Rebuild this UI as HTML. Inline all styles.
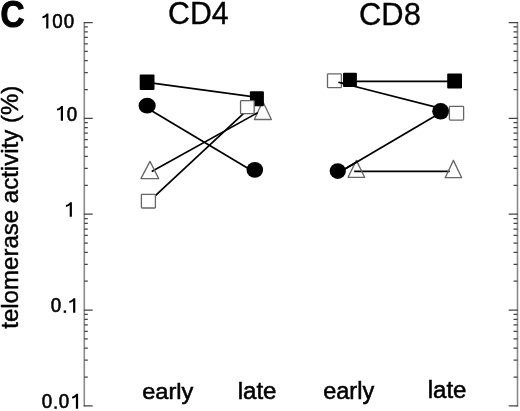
<!DOCTYPE html>
<html><head><meta charset="utf-8"><style>
html,body{margin:0;padding:0;background:#fff;width:520px;height:411px;overflow:hidden}
svg{display:block;will-change:transform}
</style></head><body>
<svg width="520" height="411" viewBox="0 0 520 411">
<g font-family="Liberation Sans, sans-serif" fill="#000">
<text transform="matrix(0.9212 0 0 1.0075 0.38 26.64)" font-size="36" font-weight="bold" stroke="#000" stroke-width="1.142">C</text><text transform="matrix(0.9457 0 0 1.0043 168.08 24.10)" font-size="32" font-weight="normal" stroke="#000" stroke-width="0.359">CD4</text><text transform="matrix(0.9649 0 0 1.0000 359.05 24.50)" font-size="32" font-weight="normal" stroke="#000" stroke-width="0.356">CD8</text><text transform="matrix(1.0040 0 0 0.9618 142.15 398.79)" font-size="23.5" font-weight="normal" stroke="#000" stroke-width="0.560">early</text><text transform="matrix(1.0238 0 0 1.0085 237.72 398.70)" font-size="23.5" font-weight="normal" stroke="#000" stroke-width="0.541">late</text><text transform="matrix(1.0000 0 0 0.9798 323.25 398.70)" font-size="23.5" font-weight="normal" stroke="#000" stroke-width="0.556">early</text><text transform="matrix(1.0238 0 0 0.9859 427.72 398.31)" font-size="23.5" font-weight="normal" stroke="#000" stroke-width="0.547">late</text><text transform="translate(18.04 328.76) rotate(-90) scale(1.0235 1.0112)" font-size="23.5" font-weight="normal" stroke="#000" stroke-width="0.442">telomerase activity (%)</text>
<path d="M48.40 28.40V13.60H46.64C45.60 15.20 43.60 16.20 42.40 16.50V18.30C44.40 18.10 45.20 17.40 46.20 16.50V28.40Z"/><text transform="matrix(0.8727 0 0 0.9524 52.16 28.22)" font-size="21.5" stroke="#000" stroke-width="0.603">0</text><text transform="matrix(0.8727 0 0 0.9524 63.86 28.22)" font-size="21.5" stroke="#000" stroke-width="0.603">0</text><path d="M63.00 120.70V105.90H61.24C60.20 107.50 58.20 108.50 57.00 108.80V110.60C59.00 110.40 59.80 109.70 60.80 108.80V120.70Z"/><text transform="matrix(0.8727 0 0 0.9524 66.86 120.52)" font-size="21.5" stroke="#000" stroke-width="0.603">0</text><path d="M71.90 216.80V202.20H70.14C69.10 203.80 67.10 204.80 65.90 205.10V206.90C67.90 206.70 68.70 206.00 69.70 205.10V216.80Z"/><text transform="matrix(0.8727 0 0 0.9524 50.86 312.42)" font-size="21.5" stroke="#000" stroke-width="0.603">0</text><rect x="63.70" y="310.40" width="2.4" height="2.4"/><path d="M75.30 312.70V298.20H73.54C72.50 299.80 70.50 300.80 69.30 301.10V302.90C71.30 302.70 72.10 302.00 73.10 301.10V312.70Z"/><text transform="matrix(0.8727 0 0 0.9524 41.86 408.42)" font-size="21.5" stroke="#000" stroke-width="0.603">0</text><rect x="54.40" y="406.40" width="2.4" height="2.4"/><text transform="matrix(0.8727 0 0 0.9524 58.66 408.42)" font-size="21.5" stroke="#000" stroke-width="0.603">0</text><path d="M78.10 408.80V393.80H76.34C75.30 395.40 73.30 396.40 72.10 396.70V398.50C74.10 398.30 74.90 397.60 75.90 396.70V408.80Z"/>
</g>
<path d="M84.3 22.0V406.40M517.5 22.0V406.40" stroke="#8a8a8a" stroke-width="1.6" fill="none"/>
<path d="M84.3 89.50H87.80M517.5 89.50H513.50M84.3 72.62H87.80M517.5 72.62H513.50M84.3 60.64H87.80M517.5 60.64H513.50M84.3 51.35H87.80M517.5 51.35H513.50M84.3 43.76H87.80M517.5 43.76H513.50M84.3 37.35H87.80M517.5 37.35H513.50M84.3 31.79H87.80M517.5 31.79H513.50M84.3 26.89H87.80M517.5 26.89H513.50M84.3 185.35H87.80M517.5 185.35H513.50M84.3 168.47H87.80M517.5 168.47H513.50M84.3 156.49H87.80M517.5 156.49H513.50M84.3 147.20H87.80M517.5 147.20H513.50M84.3 139.61H87.80M517.5 139.61H513.50M84.3 133.20H87.80M517.5 133.20H513.50M84.3 127.64H87.80M517.5 127.64H513.50M84.3 122.74H87.80M517.5 122.74H513.50M84.3 281.20H87.80M517.5 281.20H513.50M84.3 264.32H87.80M517.5 264.32H513.50M84.3 252.34H87.80M517.5 252.34H513.50M84.3 243.05H87.80M517.5 243.05H513.50M84.3 235.46H87.80M517.5 235.46H513.50M84.3 229.05H87.80M517.5 229.05H513.50M84.3 223.49H87.80M517.5 223.49H513.50M84.3 218.59H87.80M517.5 218.59H513.50M84.3 377.05H87.80M517.5 377.05H513.50M84.3 360.17H87.80M517.5 360.17H513.50M84.3 348.19H87.80M517.5 348.19H513.50M84.3 338.90H87.80M517.5 338.90H513.50M84.3 331.31H87.80M517.5 331.31H513.50M84.3 324.90H87.80M517.5 324.90H513.50M84.3 319.34H87.80M517.5 319.34H513.50M84.3 314.44H87.80M517.5 314.44H513.50M83.8 22.50H92.70M518.0 22.50H508.70M83.8 118.35H92.70M518.0 118.35H508.70M83.8 214.20H92.70M518.0 214.20H508.70M83.8 310.05H92.70M518.0 310.05H508.70M83.8 405.90H92.70M518.0 405.90H508.70" stroke="#444" stroke-width="1.25" fill="none"/>
<path d="M262.7 101.3L271.4 119.5H254.4Z" fill="none" stroke="#666" stroke-width="1.3" stroke-linejoin="round"/><path d="M147 82.42L257 97.17" stroke="#000" stroke-width="1.7" fill="none"/><path d="M147 107.97L254.5 172.18" stroke="#000" stroke-width="1.7" fill="none"/><path d="M151.7 171.42L257.7 112.69" stroke="#000" stroke-width="1.7" fill="none"/><path d="M148.4 202.17L247.4 109.98" stroke="#000" stroke-width="1.7" fill="none"/><rect x="139.7" y="74.5" width="14.80" height="15.50" rx="1" fill="#000"/><ellipse cx="147.15" cy="105.70" rx="8.55" ry="7.90" fill="#000"/><path d="M150 161.4L158.7 178.6H140.9Z" fill="none" stroke="#666" stroke-width="1.3" stroke-linejoin="round"/><rect x="141.4" y="194.3" width="14.00" height="13.70" rx="0.8" fill="#fff" stroke="#666" stroke-width="1.3"/><rect x="249.9" y="91.3" width="14.00" height="15.00" rx="1" fill="#000"/><rect x="240.55" y="100.55" width="13.65" height="13.15" rx="0.8" fill="#fff" stroke="#666" stroke-width="1.3"/><ellipse cx="254.80" cy="169.85" rx="8.30" ry="7.85" fill="#000"/><path d="M338.3 82.2L456.4 112.43" stroke="#000" stroke-width="1.7" fill="none"/><path d="M350 81.35L454.6 81.35" stroke="#000" stroke-width="1.7" fill="none"/><path d="M337.7 173.15L440.6 112.85" stroke="#000" stroke-width="1.7" fill="none"/><path d="M354.2 171.45L449.8 171.45" stroke="#000" stroke-width="1.7" fill="none"/><rect x="327.5" y="73.8" width="13.90" height="13.90" rx="0.8" fill="#fff" stroke="#666" stroke-width="1.3"/><path d="M338.3 82.2L344 83.66" stroke="#000" stroke-width="1.7" fill="none"/><rect x="343.0" y="72.7" width="13.90" height="14.30" rx="1" fill="#000"/><path d="M356.4 160.4L364.6 177.3H348.1Z" fill="none" stroke="#666" stroke-width="1.3" stroke-linejoin="round"/><ellipse cx="337.75" cy="171.05" rx="8.15" ry="7.85" fill="#000"/><path d="M340 171.8L358 161.25" stroke="#000" stroke-width="1.7" fill="none"/><rect x="447.2" y="73.55" width="14.80" height="15.05" rx="1" fill="#000"/><ellipse cx="440.65" cy="111.30" rx="8.45" ry="8.30" fill="#000"/><rect x="449.4" y="106.4" width="14.20" height="13.75" rx="0.8" fill="#fff" stroke="#666" stroke-width="1.3"/><path d="M453.4 160.4L461.7 177.7H445.2Z" fill="none" stroke="#666" stroke-width="1.3" stroke-linejoin="round"/>
</svg>
</body></html>
